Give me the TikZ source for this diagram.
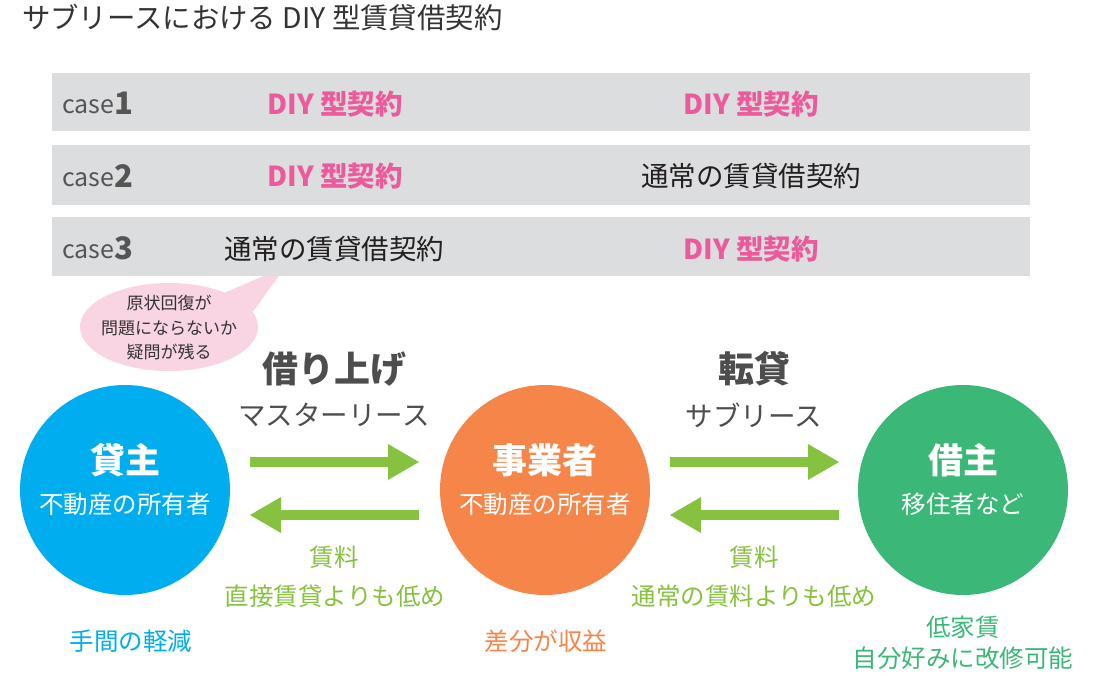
\documentclass[tikz,border=0pt]{standalone}
\usepackage{fontspec}
\setmainfont{Noto Sans CJK JP}
\usetikzlibrary{arrows.meta,calc}
\definecolor{bargray}{HTML}{DCDDDE}
\definecolor{casegray}{HTML}{555555}
\definecolor{diypink}{HTML}{EB5A9D}
\definecolor{bubblepink}{HTML}{F9D4E2}
\definecolor{titlegray}{HTML}{333333}
\definecolor{headgray}{HTML}{4D4D4D}
\definecolor{lessorblue}{HTML}{00ADEE}
\definecolor{bizorange}{HTML}{F58549}
\definecolor{tenantgreen}{HTML}{3BB878}
\definecolor{arrowgreen}{HTML}{86C240}
\definecolor{rowblack}{HTML}{231F20}
\tikzset{
  bar/.style={fill=bargray, draw=none},
  casetxt/.style={anchor=west, text=casegray, inner sep=0pt, font=\fontsize{25}{28}\selectfont},
  diy/.style={text=diypink, font=\fontsize{27.5}{30}\selectfont\bfseries, inner sep=0pt},
  normal/.style={text=rowblack, font=\fontsize{27.5}{30}\selectfont, inner sep=0pt},
  bubtxt/.style={text=titlegray, font=\fontsize{17}{20}\selectfont, inner sep=0pt},
  head/.style={text=headgray, font=\fontsize{36}{40}\selectfont\bfseries, inner sep=0pt},
  subhead/.style={text=headgray, font=\fontsize{27.5}{30}\selectfont, inner sep=0pt},
  party/.style={circle, minimum size=210pt, inner sep=0pt, draw=none},
  partyname/.style={text=white, font=\fontsize{35}{38}\selectfont\bfseries, inner sep=0pt},
  partysub/.style={text=white, font=\fontsize{24.5}{27}\selectfont, inner sep=0pt},
  note/.style={font=\fontsize{24.5}{27}\selectfont, inner sep=0pt},
  bigarrow/.style={draw=arrowgreen, line width=10pt,
    -{Triangle[length=31pt,width=36pt,line width=0pt]}},
}
\begin{document}
\begin{tikzpicture}[x=1pt,y=-1pt]
\useasboundingbox (0,0) rectangle (1093,686);
\fill[white] (0,0) rectangle (1093,686);

% title
\node[anchor=west, inner sep=0pt, text=titlegray, font=\fontsize{28.4}{32}\selectfont] (title) at (22,18) {サブリースにおける DIY 型賃貸借契約};

% speech bubble (drawn before bars so the tail tip hides under row 3)
\fill[bubblepink] (169,327) ellipse [x radius=89, y radius=44];
\fill[bubblepink] (222,294) -- (286,266) -- (252,313) -- cycle;
\node[bubtxt] (b1) at (169,303) {原状回復が};
\node[bubtxt] (b2) at (169,328) {問題にならないか};
\node[bubtxt] (b3) at (169,352) {疑問が残る};

% case rows
\fill[bar] (52,73) rectangle (1030,131);
\fill[bar] (52,145) rectangle (1030,205);
\fill[bar] (52,217) rectangle (1030,276);

\node[casetxt] (c1) at (62,103) {case\raisebox{-0.5pt}{\fontsize{31}{34}\selectfont\bfseries 1}};
\node[casetxt] (c2) at (62,176) {case\raisebox{-0.5pt}{\fontsize{31}{34}\selectfont\bfseries 2}};
\node[casetxt] (c3) at (62,248) {case\raisebox{-0.5pt}{\fontsize{31}{34}\selectfont\bfseries 3}};

\node[diy] (r1l) at (335,104) {DIY 型契約};
\node[diy] (r1r) at (751,104) {DIY 型契約};
\node[diy] (r2l) at (335,176) {DIY 型契約};
\node[normal] (r2r) at (751,176) {通常の賃貸借契約};
\node[normal] (r3l) at (334,249) {通常の賃貸借契約};
\node[diy] (r3r) at (751,249) {DIY 型契約};

% headings
\node[head] (h1) at (334,369) {借り上げ};
\node[subhead] (s1) at (334,415) {マスターリース};
\node[head] (h2) at (754,369) {転貸};
\node[subhead] (s2) at (754,415) {サブリース};

% parties
\node[party, fill=lessorblue] (lessor) at (125,490) {};
\node[party, fill=bizorange] (biz) at (545,490) {};
\node[party, fill=tenantgreen] (tenant) at (963,490) {};

\node[partyname] (lessorN) at (125,460) {貸主};
\node[partysub] (lessorS) at (125,504) {不動産の所有者};
\node[partyname] (bizN) at (545,460) {事業者};
\node[partysub] (bizS) at (545,504) {不動産の所有者};
\node[partyname] (tenantN) at (963,460) {借主};
\node[partysub] (tenantS) at (963,504) {移住者など};

% arrows
\coordinate (a1s) at (250,462);
\coordinate (a1e) at (419,462);
\coordinate (a2s) at (419,515);
\coordinate (a2e) at (250,515);
\coordinate (a3s) at (670,462);
\coordinate (a3e) at (839,462);
\coordinate (a4s) at (839,515);
\coordinate (a4e) at (670,515);
\draw[bigarrow] (a1s) -- (a1e);
\draw[bigarrow] (a2s) -- (a2e);
\draw[bigarrow] (a3s) -- (a3e);
\draw[bigarrow] (a4s) -- (a4e);

% rent notes
\node[note, text=arrowgreen] (n1) at (334,557) {賃料};
\node[note, text=arrowgreen] (n2) at (335,596) {直接賃貸よりも低め};
\node[note, text=arrowgreen] (n3) at (754,557) {賃料};
\node[note, text=arrowgreen] (n4) at (754,596) {通常の賃料よりも低め};

% bottom notes
\node[note, text=lessorblue] (m1) at (131,641) {手間の軽減};
\node[note, text=bizorange] (m2) at (546,641) {差分が収益};
\node[note, text=tenantgreen] (m3) at (963,627) {低家賃};
\node[note, text=tenantgreen] (m4) at (963,658) {自分好みに改修可能};
\end{tikzpicture}
\end{document}
